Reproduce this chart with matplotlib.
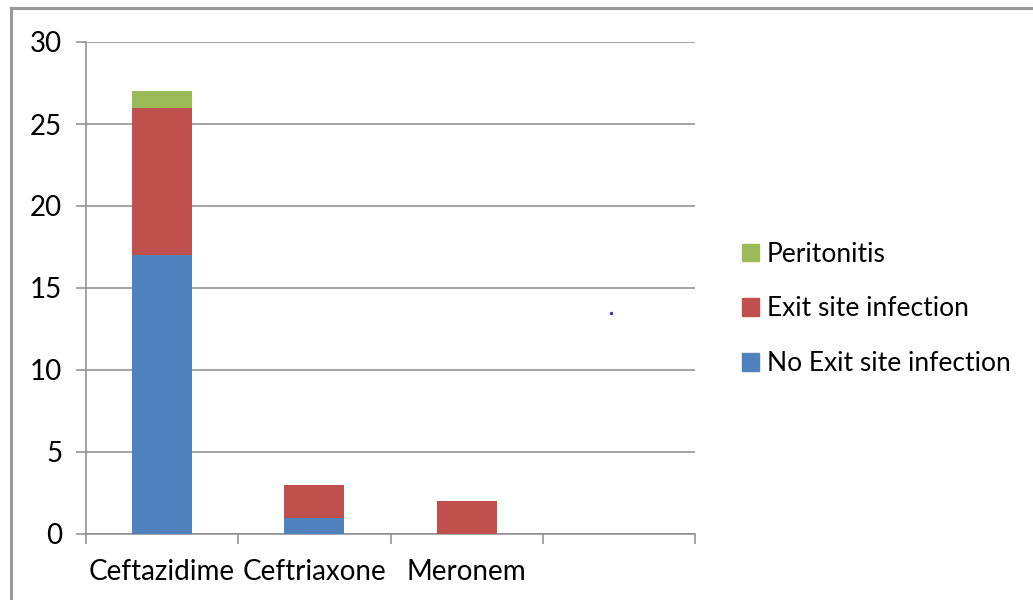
import matplotlib
matplotlib.use("Agg")
import matplotlib.pyplot as plt
from matplotlib.patches import Patch
import numpy as np

categories = ["Ceftazidime", "Ceftriaxone", "Meronem", ""]
no_exit_site = [17, 1, 0, 0]
exit_site = [9, 2, 2, 0]
peritonitis = [1, 0, 0, 0]
y_ticks = [0, 5, 10, 15, 20, 25, 30]

blue, red, green = "#4F81BD", "#C0504D", "#9BBB59"
grid_col = "#8C8C8C"

plt.rcParams["font.family"] = ["Lato", "DejaVu Sans"]

fig = plt.figure(figsize=(10.33, 6.0), dpi=100)
fig.patch.set_facecolor("white")

# outer chart frame (left and top edges visible)
fig.add_artist(plt.Line2D([0.0107, 0.0107], [0.0, 0.987], transform=fig.transFigure,
                          color="#999999", lw=2.2))
fig.add_artist(plt.Line2D([0.0107, 1.0], [0.987, 0.987], transform=fig.transFigure,
                          color="#999999", lw=2.2))

ax = fig.add_axes([0.0833, 0.11, 0.5895, 0.82])
x = np.arange(len(categories))
w = 0.395
b1 = np.array(no_exit_site)
b2 = b1 + np.array(exit_site)
ax.bar(x, no_exit_site, w, color=blue, zorder=3, label="No Exit site infection")
ax.bar(x, exit_site, w, bottom=b1, color=red, zorder=3, label="Exit site infection")
ax.bar(x, peritonitis, w, bottom=b2, color=green, zorder=3, label="Peritonitis")

ax.set_xlim(-0.5, len(categories) - 0.5)
ax.set_ylim(0, 30)
ax.set_yticks(y_ticks)
ax.set_yticklabels([str(v) for v in y_ticks], fontsize=20)
ax.yaxis.grid(True, color=grid_col, lw=1.1, zorder=0)
ax.tick_params(axis="y", length=7.2, color=grid_col, width=1.1, pad=10)

# category boundary ticks on the x axis
ax.set_xticks(np.arange(-0.5, len(categories), 1.0))
ax.set_xticklabels([])
ax.tick_params(axis="x", length=7.2, color=grid_col, width=1.1)
for xi, lab in zip(x, categories):
    ax.text(xi, -1.5, lab, ha="center", va="top", fontsize=20,
            transform=ax.transData, clip_on=False)

for s in ["top", "right"]:
    ax.spines[s].set_visible(False)
for s in ["left", "bottom"]:
    ax.spines[s].set_color(grid_col)
    ax.spines[s].set_linewidth(1.1)

handles = [Patch(color=green, label="Peritonitis"),
           Patch(color=red, label="Exit site infection"),
           Patch(color=blue, label="No Exit site infection")]
fig.legend(handles=handles, loc="center left", bbox_to_anchor=(0.695, 0.485),
           frameon=False, fontsize=19, handlelength=0.65, handleheight=0.65,
           handletextpad=0.3, labelspacing=1.12)

# small stray mark in the chart area
fig.add_artist(plt.Line2D([0.5915], [0.478], transform=fig.transFigure,
                          marker="o", markersize=1.5, color="#3333CC", lw=0))

fig.savefig("out.png", dpi=100, facecolor="white")
